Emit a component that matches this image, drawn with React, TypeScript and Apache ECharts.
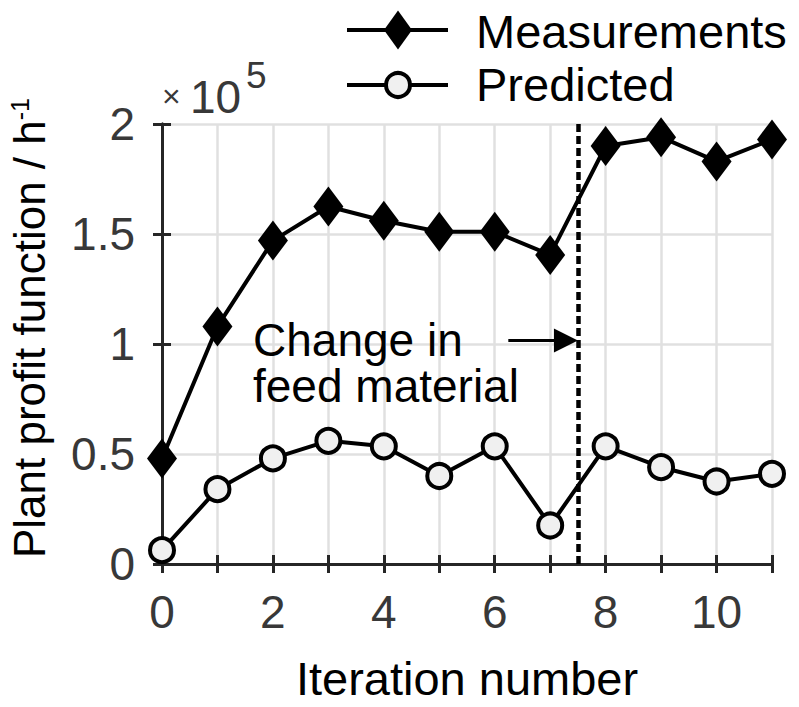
import React, { useEffect, useRef } from 'react';
import * as echarts from 'echarts';

// ---- data (plant profit, in units of 10^5 h^-1) ----
const iterations = [0, 1, 2, 3, 4, 5, 6, 7, 8, 9, 10, 11];
const measurements = [0.48, 1.08, 1.47, 1.625, 1.56, 1.51, 1.51, 1.405, 1.9, 1.94, 1.83, 1.93];
const predicted = [0.063, 0.34, 0.48, 0.56, 0.535, 0.4, 0.535, 0.175, 0.535, 0.44, 0.375, 0.41];
const seriesNames = ['Measurements', 'Predicted'];
const feedChangeAt = 7.5;
const annotationLines = ['Change in', 'feed material'];
const arrowFromX = 6.245;
const arrowAtY = 1.016;
const scaleExponent = '5';
const xTitle = 'Iteration number';
const yTitle = 'Plant profit function / h';
const yTitleSup = '-1';

const FONT = "'Liberation Sans', Arial, Helvetica, sans-serif";
const FRAME = '#262626';
const LABEL = '#383838';

export default function App() {
  const ref = useRef<HTMLDivElement>(null);

  useEffect(() => {
    document.body.style.margin = '0';
    const el = ref.current!;
    const chart = echarts.init(el, null, { renderer: 'svg' });

    const tickStyle = { show: true, inside: true, length: 9, lineStyle: { color: FRAME, width: 3 } };
    const lineAx = { show: true, lineStyle: { color: FRAME, width: 3 } };

    const option: any = {
      animation: false,
      backgroundColor: '#ffffff',
      grid: { left: 162, right: 27, top: 124, bottom: 140 },
      xAxis: [
        {
          type: 'value', min: 0, max: 11, interval: 1,
          axisLine: lineAx, axisTick: tickStyle,
          splitLine: { show: true, lineStyle: { color: '#e0e0e0', width: 2.5 } },
          axisLabel: {
            margin: 25, fontSize: 46, color: LABEL, fontFamily: FONT,
            formatter: (v: number) => (v % 2 === 0 ? String(v) : ''),
          },
          name: xTitle, nameLocation: 'middle', nameGap: 91,
          nameTextStyle: { fontSize: 47, color: '#000', fontFamily: FONT },
        },
        {
          type: 'value', position: 'top', min: 0, max: 11, interval: 1,
          axisLine: lineAx, axisTick: tickStyle,
          splitLine: { show: false }, axisLabel: { show: false },
        },
      ],
      yAxis: [
        {
          type: 'value', min: 0, max: 2, interval: 0.5,
          axisLine: lineAx, axisTick: tickStyle,
          splitLine: { show: true, lineStyle: { color: '#e0e0e0', width: 2.5 } },
          axisLabel: {
            margin: 27, fontSize: 46, color: LABEL, fontFamily: FONT,
            formatter: (v: number) => String(v),
          },
        },
        {
          type: 'value', position: 'right', min: 0, max: 2, interval: 0.5,
          axisLine: lineAx, axisTick: tickStyle,
          splitLine: { show: false }, axisLabel: { show: false },
        },
      ],
      series: [
        {
          name: seriesNames[0], type: 'line',
          data: iterations.map((x, i) => [x, measurements[i]]),
          symbol: 'diamond', symbolSize: [30, 40],
          itemStyle: { color: '#000' },
          lineStyle: { color: '#000', width: 4 },
          z: 3,
          markLine: {
            silent: true, symbol: ['none', 'none'], label: { show: false },
            lineStyle: { color: '#000', width: 4.5, type: [8, 4] },
            data: [{ xAxis: feedChangeAt }],
          },
        },
        {
          name: seriesNames[1], type: 'line',
          data: iterations.map((x, i) => [x, predicted[i]]),
          symbol: 'circle', symbolSize: 24,
          itemStyle: { color: '#f0f0f0', borderColor: '#000', borderWidth: 4 },
          lineStyle: { color: '#000', width: 4 },
          z: 3,
        },
      ],
    };
    chart.setOption(option);

    const tip = chart.convertToPixel({ gridIndex: 0 }, [feedChangeAt, arrowAtY]) as number[];
    const tail = chart.convertToPixel({ gridIndex: 0 }, [arrowFromX, arrowAtY]) as number[];
    const headLen = 24;
    const headHalf = 12;

    const graphic: any[] = [
      // legend
      { type: 'line', shape: { x1: 347, y1: 30, x2: 448, y2: 30 }, style: { stroke: '#000', lineWidth: 4 } },
      { type: 'polygon', shape: { points: [[384, 30], [398, 10.5], [412, 30], [398, 49.5]] }, style: { fill: '#000' } },
      { type: 'text', x: 476, y: 31, style: { text: seriesNames[0], fontSize: 47, fontFamily: FONT, fill: '#000', align: 'left', verticalAlign: 'middle' } },
      { type: 'line', shape: { x1: 347, y1: 85, x2: 448, y2: 85 }, style: { stroke: '#000', lineWidth: 4 } },
      { type: 'circle', shape: { cx: 398, cy: 85, r: 12 }, style: { fill: '#f0f0f0', stroke: '#000', lineWidth: 4 } },
      { type: 'text', x: 476, y: 84, style: { text: seriesNames[1], fontSize: 47, fontFamily: FONT, fill: '#000', align: 'left', verticalAlign: 'middle' } },
      // exponent
      { type: 'text', x: 162, y: 96, style: { text: '×', fontSize: 32, fontFamily: FONT, fill: LABEL, align: 'left', verticalAlign: 'middle' } },
      { type: 'text', x: 190, y: 97, style: { text: '10', fontSize: 46, fontFamily: FONT, fill: LABEL, align: 'left', verticalAlign: 'middle' } },
      { type: 'text', x: 246, y: 75, style: { text: scaleExponent, fontSize: 37, fontFamily: FONT, fill: LABEL, align: 'left', verticalAlign: 'middle' } },
      // y title
      {
        type: 'text', x: 29, y: 328, rotation: Math.PI / 2,
        style: {
          text: yTitle + '{sup|' + yTitleSup + '}', fontSize: 44, fontFamily: FONT, fill: '#000',
          align: 'center', verticalAlign: 'middle',
          rich: { sup: { fontSize: 25, fontFamily: FONT, fill: '#000', verticalAlign: 'top' } },
        },
      },
      // annotation
      { type: 'text', x: 253, y: 340, style: { text: annotationLines[0], fontSize: 46, lineHeight: 46, fontFamily: FONT, fill: '#000', align: 'left', verticalAlign: 'middle' } },
      { type: 'text', x: 253, y: 386, style: { text: annotationLines[1], fontSize: 46, lineHeight: 46, fontFamily: FONT, fill: '#000', align: 'left', verticalAlign: 'middle' } },
      { type: 'line', shape: { x1: tail[0], y1: tip[1], x2: tip[0] - headLen + 2, y2: tip[1] }, style: { stroke: '#000', lineWidth: 3 } },
      {
        type: 'polygon',
        shape: { points: [[tip[0] - headLen, tip[1] - headHalf], [tip[0], tip[1]], [tip[0] - headLen, tip[1] + headHalf]] },
        style: { fill: '#000' },
      },
    ];
    chart.setOption({ graphic });

    return () => chart.dispose();
  }, []);

  return <div ref={ref} style={{ width: 799, height: 707 }} />;
}
